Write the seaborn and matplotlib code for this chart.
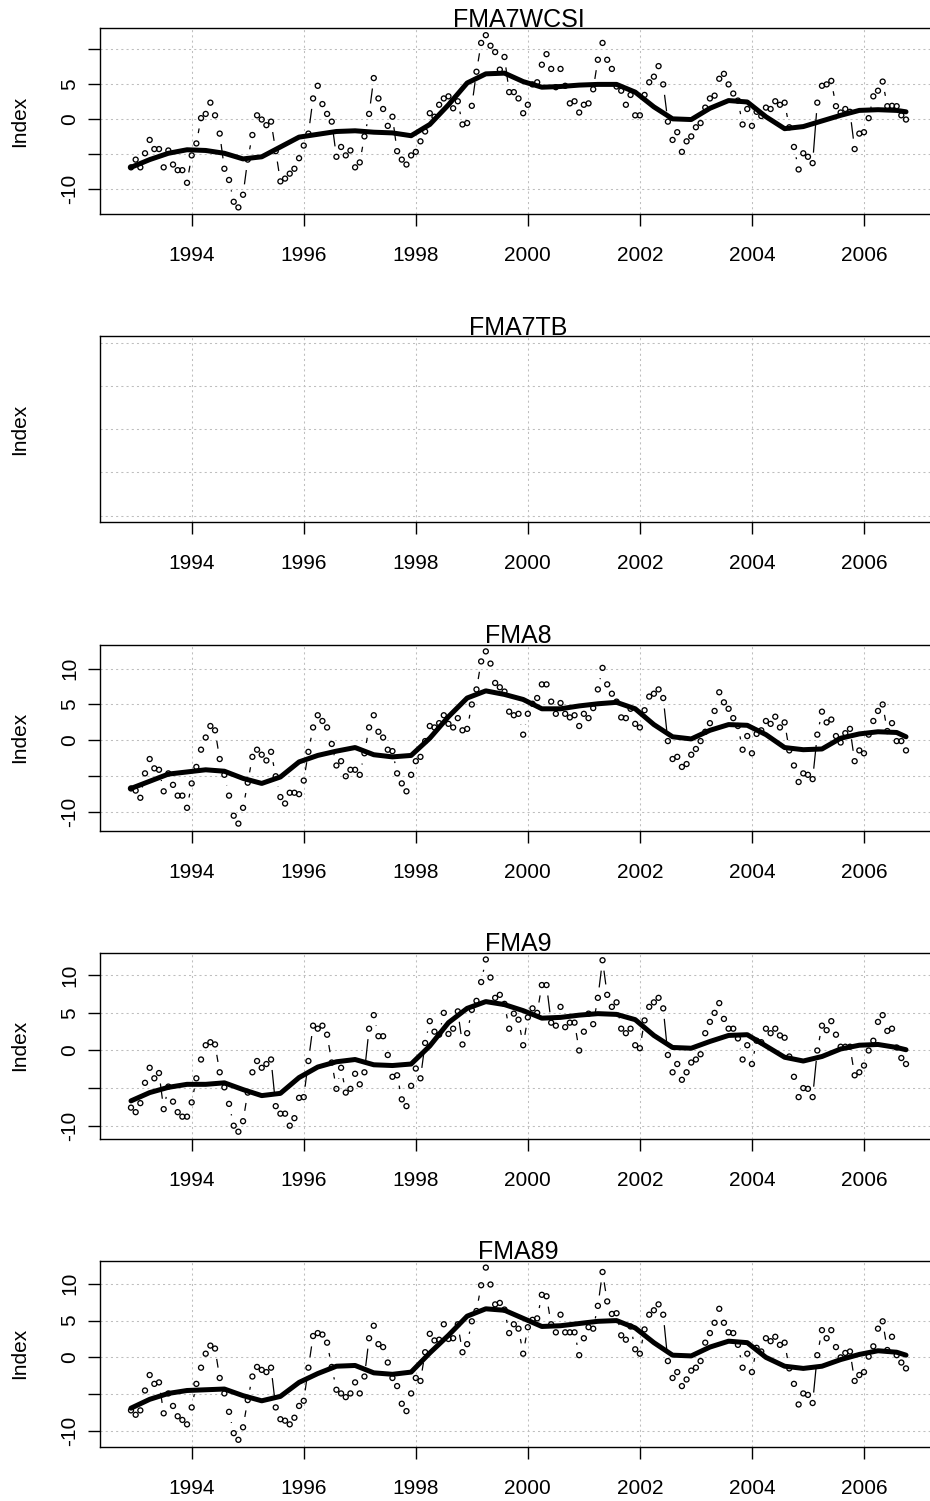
import numpy as np
import matplotlib
matplotlib.use("Agg")
import matplotlib.pyplot as plt
from matplotlib.collections import LineCollection
import seaborn as sns

# ---------------------------------------------------------------- data
titles = ["FMA7WCSI", "FMA7TB", "FMA8", "FMA9", "FMA89"]
start_year = 1992
start_month = 12          # first observation: December 1992
n_months = 167            # monthly series through October 2006
year_ticks = [1994, 1996, 1998, 2000, 2002, 2004, 2006]
year_labels = ["1994", "1996", "1998", "2000", "2002", "2004", "2006"]
index_ticks = [-10, -5, 0, 5, 10]

fma7wcsi = [
    -6.9, -5.8, -6.9, -4.9, -3.0, -4.3, -4.3, -6.9, -4.5, -6.5, -7.3, -7.3,
    -9.1, -5.2, -3.5, 0.1, 0.7, 2.3, 0.5, -2.1, -7.1, -8.7, -11.8, -12.6,
    -10.8, -5.8, -2.3, 0.5, -0.1, -0.9, -0.4, -4.6, -8.9, -8.5, -7.8, -7.1,
    -5.6, -3.8, -2.1, 2.9, 4.7, 2.1, 0.7, -0.4, -5.4, -4.0, -5.2, -4.5,
    -6.9, -6.2, -2.5, 0.7, 5.8, 2.9, 1.4, -1.0, 0.3, -4.6, -5.8, -6.5,
    -5.2, -4.7, -3.2, -1.8, 0.8, 0.3, 2.0, 2.9, 3.2, 1.5, 2.5, -0.8,
    -0.6, 1.85, 6.7, 10.8, 11.9, 10.4, 9.5, 7.0, 8.8, 3.8, 3.8, 2.9,
    0.8, 2.0, 4.9, 5.2, 7.7, 9.2, 7.1, 4.5, 7.1, 4.7, 2.2, 2.5,
    0.9, 2.0, 2.2, 4.2, 8.4, 10.8, 8.4, 7.1, 4.6, 4.0, 2.0, 3.4,
    0.5, 0.5, 3.4, 5.2, 6.0, 7.5, 4.9, -0.4, -3.0, -1.9, -4.7, -3.2,
    -2.5, -1.2, -0.6, 1.6, 2.9, 3.3, 5.7, 6.4, 4.9, 3.6, 2.6, -0.8,
    1.4, -1.0, 1.0, 0.4, 1.6, 1.4, 2.5, 2.0, 2.3, -1.2, -4.0, -7.2,
    -4.9, -5.4, -6.3, 2.3, 4.7, 4.9, 5.4, 1.8, 0.9, 1.4, 1.0, -4.3,
    -2.1, -1.9, 0.1, 3.2, 4.0, 5.3, 1.8, 1.85, 1.8, 0.5, -0.1,
]
fma7tb = []   # no observations for this index
fma8 = [
    -6.7, -7.0, -8.0, -4.6, -2.6, -3.9, -4.1, -7.1, -4.6, -6.2, -7.7, -7.7,
    -9.4, -6.0, -3.7, -1.3, 0.4, 2.0, 1.4, -2.6, -4.8, -7.7, -10.5, -11.6,
    -9.4, -5.9, -2.3, -1.3, -2.0, -2.8, -1.6, -5.0, -7.9, -8.8, -7.3, -7.3,
    -7.5, -5.6, -1.6, 1.8, 3.5, 2.7, 1.8, -0.5, -3.5, -2.9, -5.0, -4.1,
    -4.1, -4.8, -1.8, 1.8, 3.5, 1.2, 0.4, -1.3, -1.5, -4.6, -6.0, -7.1,
    -4.8, -2.9, -2.3, -0.1, 2.0, 1.8, 2.4, 3.5, 2.3, 1.8, 3.1, 1.4,
    1.6, 5.0, 7.1, 11.0, 12.4, 10.7, 8.0, 7.4, 6.8, 4.0, 3.5, 3.7,
    0.8, 3.7, 5.1, 5.9, 7.8, 7.8, 5.4, 3.7, 5.2, 3.7, 3.2, 3.5,
    2.0, 3.7, 3.1, 4.5, 7.1, 10.1, 7.8, 6.5, 5.4, 3.2, 3.1, 4.4,
    2.3, 1.8, 4.2, 6.1, 6.5, 7.1, 5.9, -0.1, -2.6, -2.3, -3.7, -3.3,
    -2.0, -1.2, -0.1, 1.2, 2.4, 4.1, 6.7, 5.3, 4.4, 3.1, 2.0, -1.3,
    0.6, -1.8, 0.9, 1.4, 2.7, 2.3, 3.3, 1.8, 2.5, -1.4, -3.5, -5.8,
    -4.6, -4.8, -5.4, 0.8, 4.0, 2.5, 2.9, 0.6, -0.3, 1.0, 1.6, -2.9,
    -1.4, -1.8, 0.8, 2.7, 4.1, 5.0, 1.3, 2.4, -0.1, -0.1, -1.4,
]
fma9 = [
    -7.6, -8.2, -7.0, -4.3, -2.3, -3.7, -3.0, -7.8, -4.8, -6.8, -8.2, -8.8,
    -8.8, -6.9, -3.7, -1.2, 0.7, 1.1, 0.8, -2.9, -4.9, -7.1, -10.0, -10.8,
    -9.4, -5.6, -2.9, -1.4, -2.3, -1.8, -1.2, -7.4, -8.4, -8.4, -10.0, -9.0,
    -6.3, -6.2, -1.4, 3.3, 2.9, 3.3, 2.1, -1.6, -5.1, -2.3, -5.6, -5.1,
    -3.1, -4.5, -2.9, 2.9, 4.7, 1.9, 1.9, -0.6, -3.5, -3.3, -6.5, -7.4,
    -4.7, -2.4, -3.7, 1.0, 3.9, 2.5, 2.1, 5.0, 2.2, 2.9, 5.2, 0.8,
    2.3, 5.4, 6.6, 9.1, 12.1, 9.7, 7.0, 7.4, 6.2, 2.9, 4.9, 4.1,
    0.7, 4.4, 5.6, 5.0, 8.7, 8.7, 3.7, 3.3, 5.8, 3.1, 3.7, 3.7,
    0.0, 2.5, 4.9, 3.5, 7.0, 12.0, 7.4, 5.8, 6.4, 2.9, 2.3, 2.9,
    0.7, 0.3, 4.0, 5.8, 6.4, 7.0, 5.6, -0.6, -2.9, -1.8, -3.9, -2.9,
    -1.6, -1.2, -0.5, 2.3, 3.8, 5.0, 6.3, 4.2, 2.9, 2.9, 1.6, -1.2,
    0.7, -1.8, 1.3, 1.1, 2.9, 2.3, 2.9, 2.0, 1.7, -0.8, -3.5, -6.2,
    -5.0, -5.1, -6.2, 0.0, 3.3, 2.7, 3.9, 2.1, 0.5, 0.5, 0.5, -3.3,
    -2.9, -2.0, 0.0, 1.3, 3.8, 4.7, 2.6, 2.9, 0.4, -1.0, -1.8,
]
fma89 = [
    -7.2, -7.8, -7.2, -4.5, -2.4, -3.6, -3.4, -7.6, -4.9, -6.6, -8.0, -8.5,
    -9.1, -6.8, -3.6, -1.4, 0.5, 1.6, 1.2, -2.8, -4.9, -7.4, -10.3, -11.2,
    -9.5, -5.8, -2.6, -1.3, -1.7, -2.0, -1.4, -6.8, -8.4, -8.6, -9.1, -8.2,
    -6.6, -5.9, -1.4, 2.9, 3.3, 3.1, 2.0, -1.3, -4.4, -4.9, -5.4, -4.9,
    -3.4, -4.9, -2.6, 2.6, 4.3, 1.8, 1.4, -0.7, -2.8, -3.9, -6.3, -7.3,
    -4.9, -2.8, -3.2, 0.7, 3.2, 2.3, 2.4, 4.5, 2.5, 2.6, 4.5, 0.7,
    1.8, 4.9, 6.3, 9.8, 12.2, 9.9, 7.2, 7.4, 6.5, 3.3, 4.5, 3.9,
    0.5, 4.1, 5.1, 5.3, 8.5, 8.3, 4.5, 3.4, 5.8, 3.4, 3.4, 3.4,
    0.3, 2.6, 4.1, 3.9, 7.0, 11.6, 7.6, 5.9, 6.0, 3.0, 2.4, 4.2,
    1.1, 0.5, 3.8, 5.8, 6.4, 7.2, 5.8, -0.5, -2.8, -2.0, -3.9, -3.0,
    -1.8, -1.4, -0.5, 2.0, 3.3, 4.7, 6.6, 4.7, 3.4, 3.3, 1.7, -1.4,
    0.5, -2.0, 1.3, 0.8, 2.6, 2.2, 2.8, 1.7, 2.0, -1.5, -3.6, -6.4,
    -4.9, -5.1, -6.2, 0.3, 3.7, 2.6, 3.7, 1.4, 0.0, 0.6, 0.8, -3.2,
    -2.4, -2.0, 0.1, 1.5, 3.9, 4.9, 1.0, 2.8, 0.3, -0.7, -1.5,
]

# smoothed trend, sampled every 4 months plus the final month
smooth_months = list(range(0, 165, 4)) + [166]
smooth_fma7wcsi = [
    -6.9, -5.8, -4.9, -4.4, -4.5, -4.9, -5.7, -5.4, -4.0, -2.6, -2.2, -1.8,
    -1.7, -1.9, -2.0, -2.4, -0.8, 2.0, 5.1, 6.4, 6.5, 5.3, 4.5, 4.6,
    4.8, 4.9, 4.9, 3.8, 1.7, 0.0, -0.1, 1.5, 2.6, 2.4, 0.3, -1.4,
    -1.1, -0.3, 0.5, 1.2, 1.3, 1.2, 1.0,
]
smooth_fma7tb = []
smooth_fma8 = [
    -6.7, -5.7, -4.7, -4.4, -4.1, -4.3, -5.3, -6.0, -5.1, -3.0, -2.1, -1.5,
    -1.0, -2.0, -2.3, -2.1, 0.3, 3.3, 5.9, 6.9, 6.4, 5.7, 4.4, 4.4,
    4.8, 5.1, 5.3, 4.4, 2.2, 0.5, 0.2, 1.4, 2.2, 2.1, 0.8, -1.0,
    -1.3, -1.2, 0.3, 0.9, 1.2, 1.1, 0.5,
]
smooth_fma9 = [
    -6.7, -5.6, -4.9, -4.5, -4.5, -4.3, -5.2, -6.0, -5.7, -3.6, -2.2, -1.5,
    -1.2, -1.9, -2.0, -1.8, 0.6, 3.7, 5.6, 6.5, 6.1, 5.3, 4.3, 4.4,
    4.7, 4.9, 4.8, 4.1, 2.0, 0.4, 0.3, 1.2, 2.0, 2.1, 0.6, -0.9,
    -1.4, -0.8, 0.2, 0.7, 0.8, 0.4, 0.1,
]
smooth_fma89 = [
    -6.9, -5.7, -4.9, -4.5, -4.4, -4.3, -5.2, -5.9, -5.3, -3.4, -2.2, -1.2,
    -1.1, -2.1, -2.3, -2.0, 0.6, 3.0, 5.6, 6.6, 6.4, 5.3, 4.2, 4.3,
    4.6, 4.9, 5.0, 4.0, 2.0, 0.3, 0.2, 1.4, 2.2, 2.0, 0.0, -1.2,
    -1.5, -1.2, -0.3, 0.4, 0.9, 0.7, 0.3,
]

series = [fma7wcsi, fma7tb, fma8, fma9, fma89]
smooths = [smooth_fma7wcsi, smooth_fma7tb, smooth_fma8, smooth_fma9, smooth_fma89]
ytick_text = [
    ["-10", "", "0", "5", ""],
    None,
    ["-10", "", "0", "5", "10"],
    ["-10", "", "0", "5", "10"],
    ["-10", "", "0", "5", "10"],
]

# ---------------------------------------------------------------- style
sns.set_theme(style="white")
plt.rcParams["font.family"] = ["Liberation Sans", "DejaVu Sans"]
for key in ["text.color", "axes.labelcolor", "xtick.color", "ytick.color",
            "axes.edgecolor"]:
    plt.rcParams[key] = "black"

FIG_W, FIG_H = 930, 1501
BOX_LEFT, BOX_RIGHT = 100, 937
BOX_TOP0, BOX_H, STEP = 28.3, 186.0, 308.1
GRID_KW = dict(color="#bebebe", linewidth=0.75, linestyle=(0, (2, 3)), zorder=1)
GAP_PX = 10.5   # blank space left around each point by the connecting lines

months = np.arange(n_months)
time = start_year + (start_month - 1) / 12 + months / 12
t_span = time[-1] - time[0]
xlim = (time[0] - 0.04 * t_span, time[-1] + 0.04 * t_span)

fig = plt.figure(figsize=(FIG_W / 100, FIG_H / 100), dpi=100)


def gapped_segments(ax, x, y):
    """Connect consecutive points, leaving a gap around each point."""
    pix = ax.transData.transform(np.column_stack([x, y]))
    inv = ax.transData.inverted()
    segs = []
    for p0, p1 in zip(pix[:-1], pix[1:]):
        d = np.hypot(*(p1 - p0))
        if d > 2 * GAP_PX:
            f = GAP_PX / d
            a = p0 + f * (p1 - p0)
            b = p1 - f * (p1 - p0)
            segs.append(inv.transform(np.array([a, b])))
    ax.add_collection(LineCollection(segs, colors="black", linewidths=0.9,
                                     zorder=2))


for k, (title, vals, smooth) in enumerate(zip(titles, series, smooths)):
    top = BOX_TOP0 + k * STEP
    ax = fig.add_axes([BOX_LEFT / FIG_W, 1 - (top + BOX_H) / FIG_H,
                       (BOX_RIGHT - BOX_LEFT) / FIG_W, BOX_H / FIG_H])
    ax.set_xlim(*xlim)

    if len(vals):
        vals = np.asarray(vals, dtype=float)
        lo, hi = vals.min(), vals.max()
        pad = 0.04 * (hi - lo)
        ax.set_ylim(lo - pad, hi + pad)
        sns.scatterplot(x=time, y=vals, ax=ax, marker="o", s=13,
                        facecolor="none", edgecolor="black", linewidth=0.95,
                        zorder=3)
        sns.lineplot(x=time[smooth_months], y=smooth, ax=ax, color="black",
                     linewidth=3.6, solid_capstyle="round",
                     solid_joinstyle="round", errorbar=None, sort=False,
                     zorder=4)
        ax.set_xlim(*xlim)
        ax.set_ylim(lo - pad, hi + pad)
        gapped_segments(ax, time, vals)
        yt = index_ticks
        ax.set_yticks(yt)
        ax.set_yticklabels(ytick_text[k])
        ax.tick_params(axis="y", direction="out", length=8.6, width=1.0,
                       pad=6.5, labelsize=15, labelrotation=90, left=True)
        for lab in ax.get_yticklabels():
            lab.set_va("center")
    else:
        ax.set_ylim(-1.08, 1.08)
        yt = [-1, -0.5, 0, 0.5, 1]
        ax.set_yticks(yt)
        ax.tick_params(axis="y", length=0, labelleft=False)

    for yv in yt:
        ax.axhline(yv, **GRID_KW)
    for xv in year_ticks:
        ax.axvline(xv, **GRID_KW)

    ax.set_xticks(year_ticks)
    ax.set_xticklabels(year_labels)
    ax.tick_params(axis="x", direction="out", length=8.6, width=1.0,
                   pad=14.5, labelsize=15, bottom=True)
    ax.set_xlabel("")
    ax.set_ylabel("")
    for sp in ax.spines.values():
        sp.set_color("black")
        sp.set_linewidth(1.0)
    ax.set_title(title, fontsize=18, pad=1, color="black")
    fig.text(19.5 / FIG_W, 1 - (top + BOX_H / 2) / FIG_H, "Index",
             rotation=90, ha="center", va="center", fontsize=15)

fig.savefig("out.png", dpi=100)
